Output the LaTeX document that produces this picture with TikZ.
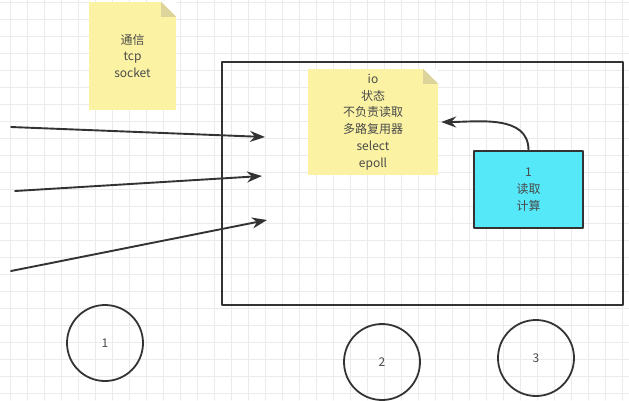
\documentclass[tikz,border=0pt]{standalone}
\usepackage{fontspec}
\setmainfont{Noto Sans CJK SC}
\usetikzlibrary{arrows.meta,positioning}
\definecolor{notey}{HTML}{FBF3A3}
\definecolor{notefold}{HTML}{DCD49A}
\definecolor{calccyan}{HTML}{55E8F8}
\definecolor{ink}{HTML}{333333}
\definecolor{txt}{HTML}{4A4A4A}
\definecolor{gridc}{HTML}{EBEBEB}
\tikzset{
  note/.style={fill=notey, inner sep=0pt, align=center, text=txt},
  calcbox/.style={draw=ink, line width=1.8pt, fill=calccyan, align=center, text=txt, inner sep=0pt},
  wheel/.style={draw=ink, line width=1.8pt, circle, minimum size=76pt, text=txt},
  flow/.style={draw=ink, line width=1.9pt, -{Stealth[length=15pt,width=11pt]}}
}
\begin{document}
\begin{tikzpicture}[x=1pt, y=-1pt, font=\fontsize{12}{16.8}\selectfont, line join=round, line cap=round]
	\useasboundingbox (0,0) rectangle (629,400);
	% background grid
	\foreach \g in {10,27,...,629}
	\draw[gridc, line width=0.8pt] (\g,0) -- (\g,400);
	\foreach \g in {2,19,...,400}
	\draw[gridc, line width=0.8pt] (0,\g) -- (629,\g);
	% notes
	\node[note, minimum width=87pt, minimum height=108pt] (comm) at (132.5,56) {通信\\tcp\\socket};
	\fill[white] (comm.north east) -- ++(-15,0) -- ++(15,15) -- cycle;
	\fill[notefold] (comm.north east) ++(-15,0) -- ++(15,15) -- ++(-15,0) -- cycle;
	% server
	\draw[ink, line width=1.9pt] (222,62) rectangle (623,305);
	\node[note, minimum width=130pt, minimum height=106pt] (io) at (373,122) {io\\状态\\不负责读取\\多路复用器\\select\\epoll};
	\fill[white] (io.north east) -- ++(-15,0) -- ++(15,15) -- cycle;
	\fill[notefold] (io.north east) ++(-15,0) -- ++(15,15) -- ++(-15,0) -- cycle;
	\node[calcbox, minimum width=109pt, minimum height=77pt] (calc) at (528.5,189.5) {1\\读取\\计算};
	\draw[flow] (calc.north) to[out=90, in=0] ([xshift=3pt]io.east);
	% incoming connections
	\coordinate (src1) at (11,127);
	\coordinate (src2) at (15,191);
	\coordinate (src3) at (11,271);
	\coordinate (dst1) at (265,137);
	\coordinate (dst2) at (262,176);
	\coordinate (dst3) at (267,220);
	\foreach \i in {1,2,3}
	\draw[flow] (src\i) -- (dst\i);
	% clients
	\node[wheel] (c1) at (105,343) {1};
	\node[wheel] (c2) at (382,362) {2};
	\node[wheel] (c3) at (536,358) {3};
\end{tikzpicture}
\end{document}
